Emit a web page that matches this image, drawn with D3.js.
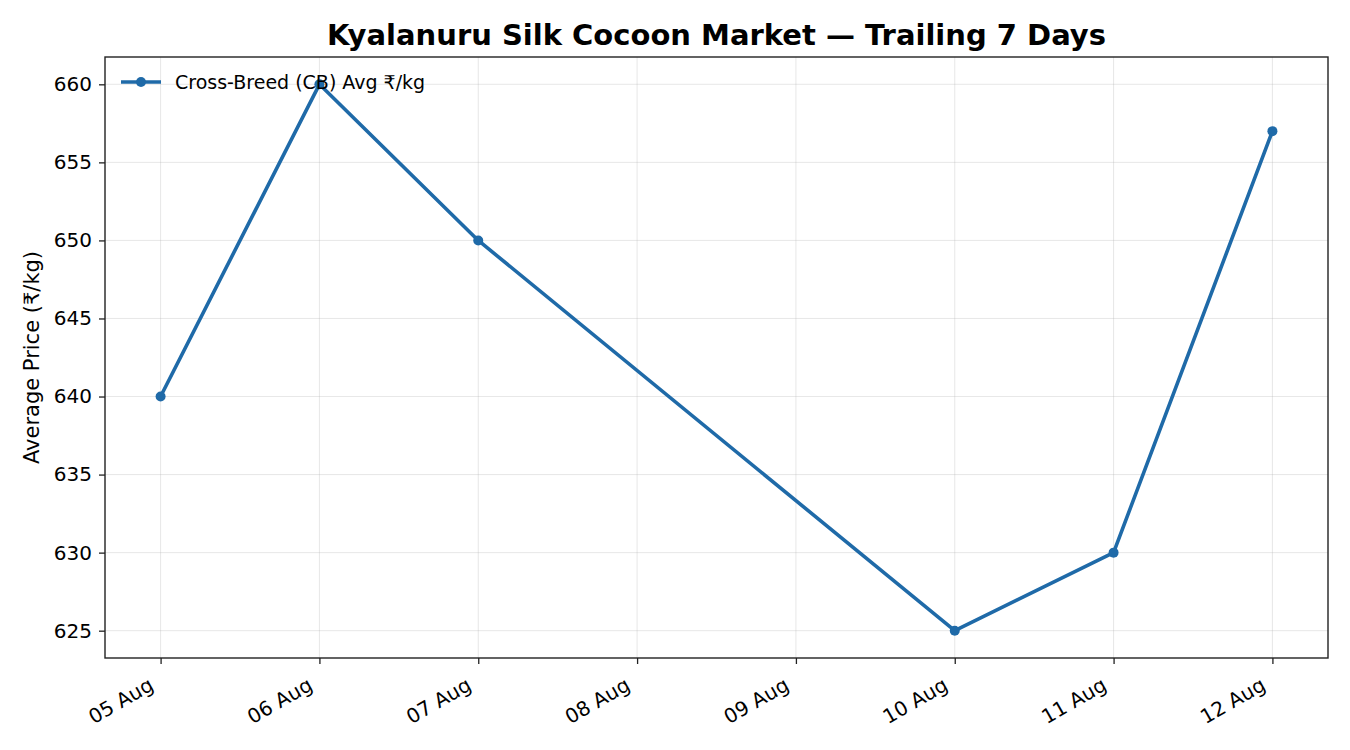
<!DOCTYPE html>
<html><head><meta charset="utf-8">
<script src="https://cdn.jsdelivr.net/npm/d3@7"></script>
<style>body{margin:0;background:#fff}svg{display:block;font-family:"DejaVu Sans",sans-serif}</style>
</head><body>
<svg id="c" width="1350" height="750"></svg>
<script>
const dates = ["2024-08-05","2024-08-06","2024-08-07","2024-08-10","2024-08-11","2024-08-12"];
const prices = [640, 660, 650, 625, 630, 657];
const tickDates = ["2024-08-05","2024-08-06","2024-08-07","2024-08-08","2024-08-09","2024-08-10","2024-08-11","2024-08-12"];
const yTicks = [625, 630, 635, 640, 645, 650, 655, 660];
const seriesName = "Cross-Breed (CB) Avg \u20B9/kg";
const title = "Kyalanuru Silk Cocoon Market \u2014 Trailing 7 Days";
const yLabel = "Average Price (\u20B9/kg)";

const parse = d3.utcParse("%Y-%m-%d");
const data = dates.map((d,i)=>({date:parse(d), v:prices[i]}));
const L=105, R=1328, T=57, B=658;
const color = "#1f6aa8";
const FF = "DejaVu Sans";
const svg = d3.select("#c");

const x0 = parse(dates[0]), x1 = parse(dates[dates.length-1]);
const span = x1 - x0;
const x = d3.scaleUtc().domain([new Date(+x0 - span*0.05), new Date(+x1 + span*0.05)]).range([L,R]);
const yMin = d3.min(prices), yMax = d3.max(prices), yr = yMax-yMin;
const y = d3.scaleLinear().domain([yMin - yr*0.05, yMax + yr*0.05]).range([B,T]);

const td = tickDates.map(parse);
// grid
svg.append("g").selectAll("line").data(td).join("line")
  .attr("x1",d=>x(d)).attr("x2",d=>x(d)).attr("y1",T).attr("y2",B)
  .attr("stroke","#b0b0b0").attr("stroke-opacity",0.3).attr("stroke-width",1);
svg.append("g").selectAll("line").data(yTicks).join("line")
  .attr("y1",d=>y(d)).attr("y2",d=>y(d)).attr("x1",L).attr("x2",R)
  .attr("stroke","#b0b0b0").attr("stroke-opacity",0.3).attr("stroke-width",1);

// axes
const fmt = d3.utcFormat("%d %b");
const xa = svg.append("g").attr("transform",`translate(0,${B})`)
  .call(d3.axisBottom(x).tickValues(td).tickFormat(fmt).tickSize(6).tickPadding(0));
xa.attr("font-family",FF);
xa.select(".domain").remove();
xa.selectAll(".tick line").attr("stroke","#222").attr("stroke-width",1.3);
xa.selectAll(".tick text").attr("font-size",20).attr("fill","#000")
  .attr("text-anchor","end").attr("dy",0).attr("y",0)
  .attr("transform","translate(-6,31) rotate(-30)");

const ya = svg.append("g").attr("transform",`translate(${L},0)`)
  .call(d3.axisLeft(y).tickValues(yTicks).tickSize(6).tickPadding(7));
ya.attr("font-family",FF);
ya.select(".domain").remove();
ya.selectAll(".tick line").attr("stroke","#222").attr("stroke-width",1.3);
ya.selectAll(".tick text").attr("font-size",20).attr("fill","#000");

// frame
svg.append("rect").attr("x",L).attr("y",T).attr("width",R-L).attr("height",B-T)
  .attr("fill","none").attr("stroke","#222").attr("stroke-width",1.4);

// line
svg.append("path").datum(data).attr("fill","none").attr("stroke",color).attr("stroke-width",3.6)
  .attr("stroke-linejoin","round")
  .attr("d",d3.line().x(d=>x(d.date)).y(d=>y(d.v)));
svg.append("g").selectAll("circle").data(data).join("circle")
  .attr("cx",d=>x(d.date)).attr("cy",d=>y(d.v)).attr("r",5).attr("fill",color);

// legend
svg.append("line").attr("x1",121).attr("x2",161).attr("y1",82).attr("y2",82).attr("stroke",color).attr("stroke-width",3.6);
svg.append("circle").attr("cx",141).attr("cy",82).attr("r",5).attr("fill",color);
svg.append("text").attr("x",175).attr("y",89).attr("font-size",19).attr("font-family",FF).text(seriesName);

// title
svg.append("text").attr("x",(L+R)/2).attr("y",45).attr("text-anchor","middle").attr("font-family",FF)
  .attr("font-size",29).attr("font-weight","bold").text(title);
// y label
svg.append("text").attr("transform",`translate(39,${(T+B)/2}) rotate(-90)`).attr("text-anchor","middle")
  .attr("font-size",21).attr("font-family",FF).text(yLabel);
</script>
</body></html>
